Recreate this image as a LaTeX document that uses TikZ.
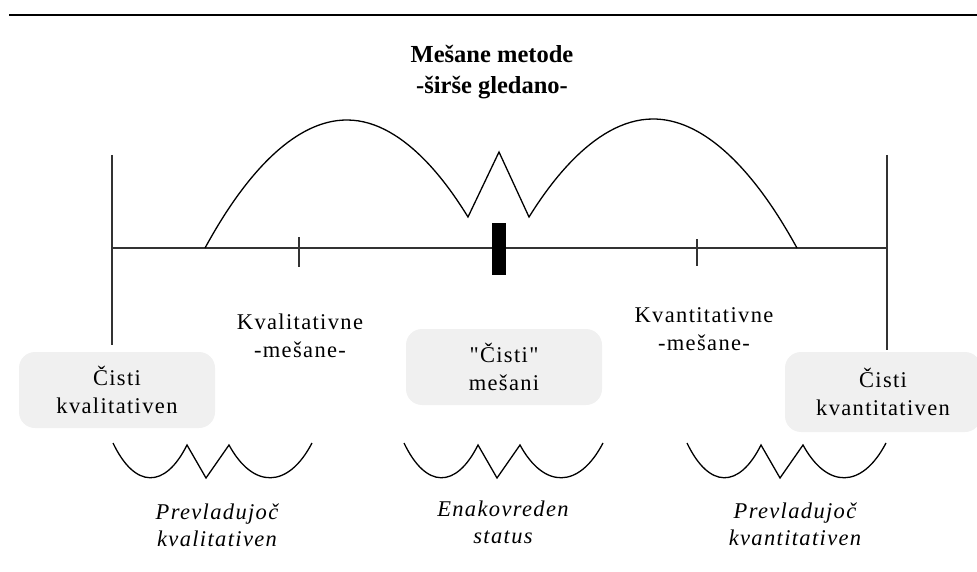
\documentclass[tikz,border=0pt]{standalone}
\usepackage{fontspec}
\setmainfont{Liberation Serif}
\newfontfamily\spacedserif[LetterSpace=6]{Liberation Serif}

\begin{document}
\begin{tikzpicture}[x=1pt,y=-1pt]
\tikzset{
  titlenode/.style={align=center,inner sep=0pt,font=\fontsize{24.5}{31}\selectfont\bfseries},
  textnode/.style={align=center,inner sep=0pt,font=\spacedserif\fontsize{22.5}{28}\selectfont},
  slantnode/.style={textnode,font=\spacedserif\fontsize{22.5}{27}\selectfont\itshape},
  puresbox/.style={textnode,fill=black!6,rounded corners=16pt,minimum width=196pt,minimum height=76pt},
  scaleline/.style={draw=black!80,line width=1.4pt},
  curveline/.style={draw=black,line width=1.3pt,line join=miter},
  bowlwave/.pic={
    \draw[curveline] (0,0) .. controls (22,46) and (52,46) .. (74,2) -- (93,35) -- (116,2)
      .. controls (140,46) and (175,46) .. (199,0);
  }
}
\useasboundingbox (0,0) rectangle (977,572);
% top rule
\coordinate (rule_l) at (9,15);
\coordinate (rule_r) at (977,15);
\draw[line width=2.6pt] (rule_l) -- (rule_r);
\node[titlenode] (n_title) at (492,72) {Mešane metode\\-širše gledano-};
% scale
\coordinate (s_l) at (112,248);
\coordinate (s_r) at (887,248);
\coordinate (s_lt) at (112,155);
\coordinate (s_lb) at (112,345);
\coordinate (s_rt) at (887,155);
\coordinate (s_rb) at (887,350);
\draw[scaleline] (s_l) -- (s_r);
\draw[scaleline] (s_lt) -- (s_lb);
\draw[scaleline] (s_rt) -- (s_rb);
\draw[scaleline] (299,237) -- (299,267);
\draw[scaleline] (697,239) -- (697,266);
\fill[black] (492,223) rectangle (506,275);
% broad mixed methods curve
\draw[curveline] (205,248) parabola bend (347,120) (468,217) -- (499,152) -- (529,217)
  parabola bend (653,119) (797,248);
\node[textnode] (n_kvalmix) at (300,336) {Kvalitativne\\-mešane-};
\node[textnode] (n_kvantmix) at (704,329) {Kvantitativne\\-mešane-};
\node[puresbox] (n_pureL) at (117,390) {Čisti\\kvalitativen};
\node[puresbox] (n_pureM) at (504,367) {"Čisti"\\mešani};
\node[puresbox,minimum height=80pt] (n_pureR) at (883,392) {Čisti\\kvantitativen};
% waves
\pic at (113,443) {bowlwave};
\pic at (404,443) {bowlwave};
\pic at (687,443) {bowlwave};
\node[slantnode] (n_leanL) at (217,525) {Prevladujoč\\kvalitativen};
\node[slantnode] (n_equal) at (503,522) {Enakovreden\\status};
\node[slantnode] (n_leanR) at (795,524) {Prevladujoč\\kvantitativen};
\end{tikzpicture}
\end{document}
